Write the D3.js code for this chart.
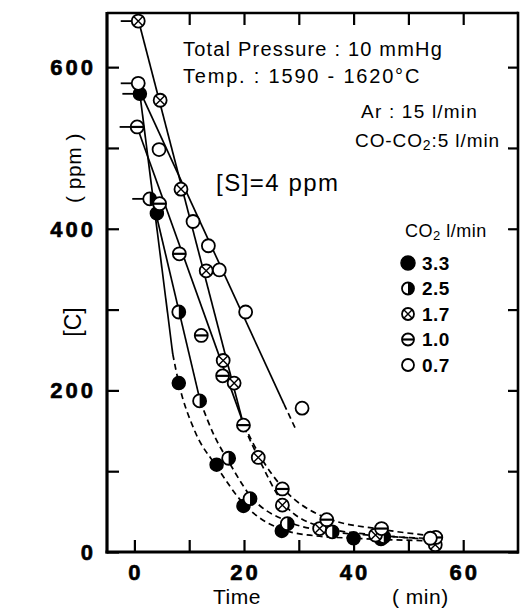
<!DOCTYPE html>
<html>
<head>
<meta charset="utf-8">
<script src="https://cdn.jsdelivr.net/npm/d3@7/dist/d3.min.js"></script>
<style>
  html, body { margin: 0; padding: 0; background: #fff; }
  svg { display: block; }
  text { font-family: "Liberation Sans", Arial, sans-serif; fill: #000; }
</style>
</head>
<body>
<svg id="chart" width="523" height="610"></svg>
<script>
// Decarburization of the melt: [C] vs time for different CO2 flow rates.
const flowRates = ["3.3", "2.5", "1.7", "1.0", "0.7"];
const markerKinds = ["filled", "half", "cross", "bar", "open"];

// Measured points [time (min), [C] (ppm)]; the first point of each run carries a start flag.
const points33 = [[1, 567], [4.1, 419], [8.1, 209], [15, 108], [19.9, 57], [26.9, 26], [40, 17], [45, 16]];
const points25 = [[2.8, 437], [8.1, 297], [11.9, 187], [17.2, 116], [21.1, 66], [27.9, 35], [36.1, 25], [45.5, 19]];
const points17 = [[0.7, 657], [4.7, 559], [8.5, 449], [13.1, 348], [16.2, 237], [18.2, 209], [22.6, 117], [27, 58], [33.8, 29], [44, 21], [54.9, 9]];
const points10 = [[0.5, 526], [4.6, 431], [8.2, 369], [12.2, 268], [16.1, 218], [19.9, 157], [27, 78], [35.1, 40], [45.1, 29], [55, 18]];
const points07 = [[0.7, 580], [4.5, 498], [10.7, 409], [13.5, 379], [15.5, 349], [20.3, 297], [30.6, 178], [54, 17]];

// First-stage straight lines (start, end)
const linear33 = [[1, 567], [7.0, 245]];
const linear25 = [[3.2, 440], [12, 187]];
const linear17 = [[0.7, 659], [20, 155]];
const linear10 = [[0.5, 526], [20, 157]];
const linear07 = [[0.7, 575], [27.3, 183]];

// Second-stage dashed curves
const tail33 = [[7.0, 245], [8.1, 209], [11, 150], [15, 106], [19.9, 60], [26.9, 28], [33, 20], [40, 17], [53, 14]];
const tail25 = [[12, 187], [14.5, 145], [17.2, 112], [21.1, 70], [27.9, 38], [36.1, 25], [45, 20], [53, 16]];
const tail17 = [[20, 155], [22.6, 117], [27, 62], [33.8, 32], [44, 21], [53, 17]];
const tail10 = [[20, 157], [23, 118], [27, 80], [35.1, 42], [45.1, 28], [53, 21]];
const tail07 = [[27.3, 183], [29.5, 151]];

const xTicks = [0, 20, 40, 60];
const xMinorTicks = [0, 10, 20, 30, 40, 50, 60];
const yTicks = [0, 200, 400, 600];
const yMinorTicks = [0, 100, 200, 300, 400, 500, 600];

const runs = [
  { rate: flowRates[0], kind: markerKinds[0], pts: points33, line: linear33, tail: tail33 },
  { rate: flowRates[1], kind: markerKinds[1], pts: points25, line: linear25, tail: tail25 },
  { rate: flowRates[2], kind: markerKinds[2], pts: points17, line: linear17, tail: tail17 },
  { rate: flowRates[3], kind: markerKinds[3], pts: points10, line: linear10, tail: tail10 },
  { rate: flowRates[4], kind: markerKinds[4], pts: points07, line: linear07, tail: tail07 }
];

const svg = d3.select("#chart");
const plotL = 107, plotR = 518, plotT = 13, plotB = 552;

const x = d3.scaleLinear().domain([-5, 70]).range([plotL, plotR]);
const y = d3.scaleLinear().domain([0, 667]).range([plotB, plotT]);

// Frame
svg.append("line").attr("x1", plotL).attr("x2", plotL).attr("y1", plotT - 1).attr("y2", plotB + 1.5)
  .attr("stroke", "#000").attr("stroke-width", 3.2);
svg.append("line").attr("x1", plotL - 1.5).attr("x2", plotR + 1).attr("y1", plotB).attr("y2", plotB)
  .attr("stroke", "#000").attr("stroke-width", 3.2);
svg.append("line").attr("x1", plotL).attr("x2", plotR).attr("y1", plotT).attr("y2", plotT)
  .attr("stroke", "#000").attr("stroke-width", 2.6);
svg.append("line").attr("x1", plotR).attr("x2", plotR).attr("y1", plotT - 1.3).attr("y2", plotB + 1.5)
  .attr("stroke", "#000").attr("stroke-width", 2.6);

// Inward ticks on all four sides
const tickLen = 12;
const bottomAxis = d3.axisBottom(x).tickValues(xMinorTicks).tickSizeInner(-tickLen).tickSizeOuter(0).tickFormat("");
const topAxis = d3.axisTop(x).tickValues(xMinorTicks.filter(v => v > 0)).tickSizeInner(-tickLen).tickSizeOuter(0).tickFormat("");
const leftAxis = d3.axisLeft(y).tickValues(yMinorTicks).tickSizeInner(-tickLen).tickSizeOuter(0).tickFormat("");
const rightAxis = d3.axisRight(y).tickValues(yMinorTicks).tickSizeInner(-10).tickSizeOuter(0).tickFormat("");

function styleAxis(g) {
  g.select(".domain").remove();
  g.selectAll(".tick line").attr("stroke", "#000").attr("stroke-width", 2.2);
}
svg.append("g").attr("transform", `translate(0,${plotB})`).call(bottomAxis).call(styleAxis);
svg.append("g").attr("transform", `translate(0,${plotT})`).call(topAxis).call(styleAxis);
svg.append("g").attr("transform", `translate(${plotL},0)`).call(leftAxis).call(styleAxis);
svg.append("g").attr("transform", `translate(${plotR},0)`).call(rightAxis).call(styleAxis);

// Tick labels (heavy face)
const tickFont = "DejaVu Sans, Liberation Sans, sans-serif";
svg.append("g").selectAll("text").data(xTicks).join("text")
  .attr("x", d => x(d) + 1.5).attr("y", 580)
  .attr("text-anchor", "middle").attr("font-size", 22).attr("font-weight", "bold")
  .attr("font-family", tickFont).attr("letter-spacing", 3)
  .attr("stroke", "#000").attr("stroke-width", 0.6)
  .text(d => d);
svg.append("g").selectAll("text").data(yTicks).join("text")
  .attr("x", 96).attr("y", d => y(d) + 8)
  .attr("text-anchor", "end").attr("font-size", 22).attr("font-weight", "bold")
  .attr("font-family", tickFont).attr("letter-spacing", 3)
  .attr("stroke", "#000").attr("stroke-width", 0.6)
  .text(d => d);

// Axis titles
svg.append("text").attr("x", 213).attr("y", 604).attr("font-size", 21).attr("letter-spacing", 0.5).text("Time");
svg.append("text").attr("x", 392).attr("y", 604).attr("font-size", 21).attr("letter-spacing", 0.5).text("( min)");
svg.append("text").attr("transform", "translate(81,322) rotate(-90)")
  .attr("text-anchor", "middle").attr("font-size", 23).text("[C]");
svg.append("text").attr("transform", "translate(81,168) rotate(-90)")
  .attr("text-anchor", "middle").attr("font-size", 21).attr("letter-spacing", 0.5).text("( ppm )");

// Conditions
const info = svg.append("g").attr("font-size", 20);
info.append("text").attr("x", 183).attr("y", 56).attr("letter-spacing", 1.2).text("Total Pressure : 10 mmHg");
info.append("text").attr("x", 183).attr("y", 83).attr("letter-spacing", 1.8).text("Temp. : 1590 - 1620°C");
info.append("text").attr("x", 478).attr("y", 118).attr("text-anchor", "end").attr("font-size", 19)
  .attr("letter-spacing", 1.2).text("Ar : 15 l/min");
const co = info.append("text").attr("x", 500).attr("y", 147).attr("text-anchor", "end").attr("font-size", 19)
  .attr("letter-spacing", 0.9);
co.append("tspan").text("CO-CO");
co.append("tspan").attr("font-size", 14).attr("dy", 3).text("2");
co.append("tspan").attr("dy", -3).text(":5 l/min");
svg.append("text").attr("x", 216).attr("y", 191).attr("font-size", 24).attr("letter-spacing", 1.5).text("[S]=4 ppm");

// Lines
const line = d3.line().x(d => x(d[0])).y(d => y(d[1]));
const curve = d3.line().x(d => x(d[0])).y(d => y(d[1])).curve(d3.curveMonotoneX);
const lineG = svg.append("g").attr("fill", "none").attr("stroke", "#000").attr("stroke-width", 1.7);
lineG.selectAll("path.fit").data(runs).join("path").attr("class", "fit").attr("d", d => line(d.line));
lineG.selectAll("path.tail").data(runs).join("path").attr("class", "tail")
  .attr("d", d => curve(d.tail)).attr("stroke-dasharray", "6,4");

// Start flags: short horizontal dash to the left of the first point
const r = 6.5;
svg.append("g").selectAll("line").data(runs).join("line")
  .attr("x1", d => x(d.pts[0][0]) - r - 11).attr("x2", d => x(d.pts[0][0]) - r)
  .attr("y1", d => y(d.pts[0][1])).attr("y2", d => y(d.pts[0][1]))
  .attr("stroke", "#000").attr("stroke-width", 1.8);

// Marker drawing
function drawMarker(g, kind, rad) {
  if (kind === "filled") {
    g.append("circle").attr("r", rad).attr("fill", "#000").attr("stroke", "#000").attr("stroke-width", 1.5);
    return;
  }
  g.append("circle").attr("r", rad).attr("fill", "#fff").attr("stroke", "#000").attr("stroke-width", 1.8);
  if (kind === "half") {
    g.append("path").attr("d", d3.arc()({ innerRadius: 0, outerRadius: rad, startAngle: 0, endAngle: Math.PI }))
      .attr("fill", "#000");
  } else if (kind === "cross") {
    const k = rad * 0.7;
    g.append("path").attr("d", `M${-k},${-k}L${k},${k}M${-k},${k}L${k},${-k}`)
      .attr("stroke", "#000").attr("stroke-width", 1.4);
  } else if (kind === "bar") {
    g.append("line").attr("x1", -rad).attr("x2", rad).attr("stroke", "#000").attr("stroke-width", 2.2);
  }
}

runs.forEach(run => {
  const g = svg.append("g");
  run.pts.forEach(p => {
    const m = g.append("g").attr("transform", `translate(${x(p[0])},${y(p[1])})`);
    drawMarker(m, run.kind, r);
  });
});

// Legend
const lg = svg.append("g");
const lt = lg.append("text").attr("x", 405).attr("y", 237).attr("font-size", 18).attr("letter-spacing", 0.5);
lt.append("tspan").text("CO");
lt.append("tspan").attr("font-size", 13).attr("dy", 3).text("2");
lt.append("tspan").attr("dy", -3).text(" l/min");
runs.forEach((run, i) => {
  const cy = 263 + i * 25.5;
  const m = lg.append("g").attr("transform", `translate(408,${cy})`);
  drawMarker(m, run.kind, run.kind === "filled" ? 7 : 6);
  lg.append("text").attr("x", 422).attr("y", cy + 6.5).attr("font-size", 19).attr("font-weight", "bold")
    .attr("letter-spacing", 0.5).text(run.rate);
});
</script>
</body>
</html>
